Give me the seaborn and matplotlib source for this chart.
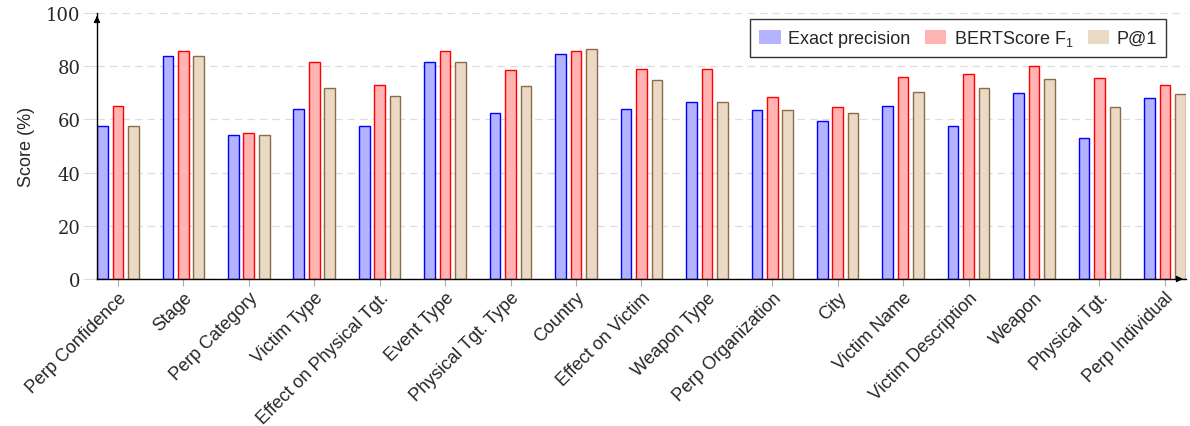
import pandas as pd
import numpy as np
import seaborn as sns
import matplotlib.pyplot as plt
from matplotlib.patches import Patch

# slot names and scores (%)
categories = ["Perp Confidence", "Stage", "Perp Category", "Victim Type",
              "Effect on Physical Tgt.", "Event Type", "Physical Tgt. Type",
              "Country", "Effect on Victim", "Weapon Type", "Perp Organization",
              "City", "Victim Name", "Victim Description", "Weapon",
              "Physical Tgt.", "Perp Individual"]
exact_precision = [57.5, 83.7, 54.0, 63.8, 57.6, 81.6, 62.5, 84.7, 64.0,
                   66.7, 63.5, 59.6, 64.9, 57.4, 69.9, 52.9, 67.9]
bertscore_f1 = [65.0, 85.8, 54.9, 81.5, 72.8, 85.6, 78.6, 85.6, 78.8,
                78.8, 68.5, 64.7, 75.8, 77.2, 80.1, 75.6, 72.9]
p_at_1 = [57.5, 83.7, 54.0, 71.9, 68.8, 81.6, 72.4, 86.6, 74.9,
          66.7, 63.5, 62.3, 70.2, 72.0, 75.1, 64.7, 69.5]

series_names = ["Exact precision", r"BERTScore F$_\mathregular{1}$", "P@1"]
fills = ["#b3b3ff", "#ffb3b3", "#ead9c5"]
edges = ["#0000ff", "#ff0000", "#8c6d46"]

df = pd.DataFrame({
    "Slot": categories * 3,
    "Score": exact_precision + bertscore_f1 + p_at_1,
    "Metric": [n for n in series_names for _ in categories],
})

sns.set_style("white")
plt.rcParams["font.family"] = ["Liberation Sans", "DejaVu Sans"]
plt.rcParams["mathtext.fontset"] = "custom"
plt.rcParams["mathtext.rm"] = "Liberation Sans"

fig = plt.figure(figsize=(11.9, 4.27), dpi=100)
ax = fig.add_axes([0.0815, 0.3443, 0.915, 0.6227])

sns.barplot(data=df, x="Slot", y="Score", hue="Metric", order=categories,
            hue_order=series_names, palette=fills, width=0.708, gap=0.31,
            ax=ax, legend=False, errorbar=None, saturation=1)

for cont, ec in zip(ax.containers, edges):
    for bar in cont:
        bar.set_edgecolor(ec)
        bar.set_linewidth(1.0)

ax.set_xlim(-0.32, len(categories) - 1 + 0.32)
ax.set_ylim(0, 100)
ax.set_yticks([0, 20, 40, 60, 80, 100])
ax.yaxis.grid(True, color="#dddddd", linestyle=(0, (6, 4)), linewidth=0.9)
ax.set_axisbelow(True)

ax.set_xlabel("")
ax.set_ylabel("Score (%)", fontsize=13, labelpad=8)
ax.set_xticks(range(len(categories)))
ax.set_xticklabels(categories, rotation=45, ha="right", rotation_mode="anchor",
                   fontsize=13)
for lab in ax.get_yticklabels():
    lab.set_fontfamily("DejaVu Serif")
    lab.set_fontsize(13)

ax.tick_params(axis="x", which="major", direction="out", length=5, width=0.8,
               color="#aaaaaa", pad=2, bottom=True)
ax.tick_params(axis="y", which="major", direction="out", length=10, width=0.8,
               color="#dddddd", pad=2, left=True)

for s in ["top", "right"]:
    ax.spines[s].set_visible(False)
ax.spines["left"].set_color("black")
ax.spines["bottom"].set_color("black")
ax.spines["left"].set_linewidth(1.0)
ax.spines["bottom"].set_linewidth(1.0)

# axis arrow heads
ax.annotate("", xy=(0, 1.0), xytext=(0, 0.97), xycoords="axes fraction",
            arrowprops=dict(arrowstyle="-|>", color="black", lw=1.0,
                            mutation_scale=9))
ax.annotate("", xy=(1.0, 0), xytext=(0.99, 0), xycoords="axes fraction",
            arrowprops=dict(arrowstyle="-|>", color="black", lw=1.0,
                            mutation_scale=9))

handles = [Patch(facecolor=f, edgecolor="none") for f in fills]
leg = ax.legend(handles, series_names, loc="upper right", ncol=3,
                bbox_to_anchor=(0.9816, 0.977), borderaxespad=0,
                fontsize=13, frameon=True, fancybox=False,
                edgecolor="black", handlelength=1.2, handleheight=0.9,
                handletextpad=0.4, columnspacing=0.8, borderpad=0.5)
leg.get_frame().set_linewidth(1.0)

fig.savefig("out.png", dpi=100)
